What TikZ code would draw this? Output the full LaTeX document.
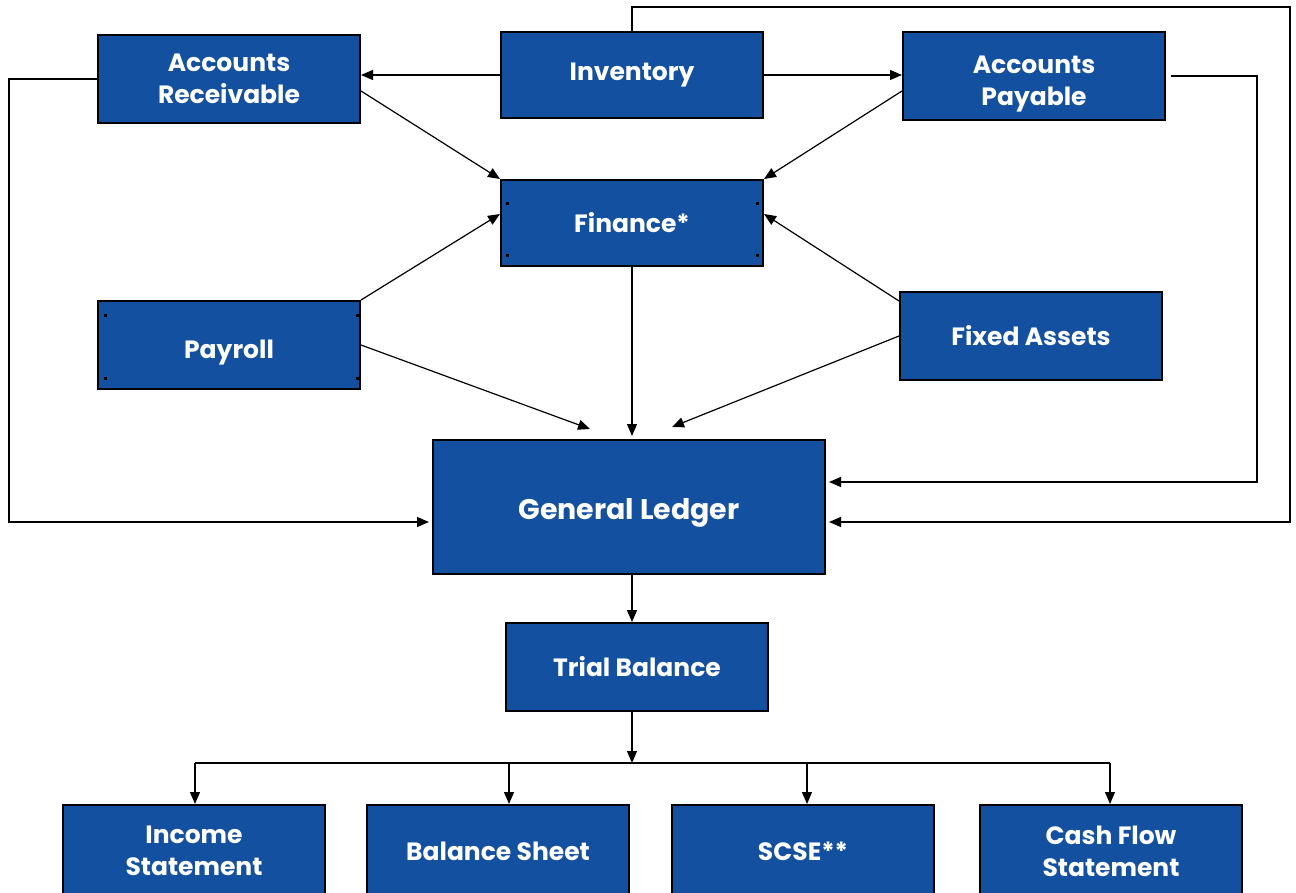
\documentclass[tikz,border=0pt]{standalone}
\usepackage{fontspec}
\setmainfont{Poppins}
\usetikzlibrary{arrows.meta,calc}
\definecolor{acctblue}{RGB}{20,80,160}
\begin{document}
\begin{tikzpicture}[x=0.5pt,y=-0.5pt,
  acct/.style={draw=black,line width=1pt,fill=acctblue,text=white,align=center,inner sep=0pt,
    font=\bfseries\fontsize{12.5}{16}\selectfont,minimum width=131pt,minimum height=44pt},
  flow/.style={line width=0.6pt,-{Triangle[length=6pt,width=5pt]}}]
\useasboundingbox (0,0) rectangle (1296,893);
\node[acct] (recv) at (229,79) {Accounts\\Receivable};
\node[acct,minimum height=43pt] (inv) at (632,75) {Inventory};
\node[acct,text height=33pt] (pay) at (1034,76) {Accounts\\Payable};
\node[acct,minimum height=43pt] (fin) at (632,223) {Finance*};
\node[acct,text height=16pt,text depth=3pt] (payroll) at (229,345) {Payroll};
\node[acct] (fixed) at (1031,336) {Fixed Assets};
\node[acct,minimum width=196pt,minimum height=67pt,text height=16pt,text depth=4pt,
  font=\bfseries\fontsize{14.2}{18}\selectfont] (gl) at (629,507) {General Ledger};
\node[acct] (tb) at (637,667) {Trial Balance};
\node[acct,minimum height=46pt] (inc) at (194,851) {Income\\Statement};
\node[acct,minimum height=46pt] (bal) at (498,851) {Balance Sheet};
\node[acct,minimum height=46pt] (scse) at (803,851) {SCSE**};
\node[acct,minimum height=46pt] (cfs) at (1111,851) {Cash Flow\\Statement};
\foreach \x/\y in {507/204,757/204,507/256,757/256,105/316,357/316,105/378,357/378}
  \fill[black] (\x-1.5,\y-1.5) rectangle ++(3,3);
\draw[flow] (inv.west) -- (recv.east |- inv.west);
\draw[flow] (inv.east) -- (pay.west |- inv.east);
\draw[flow] ($(recv.east)+(0,12)$) -- (fin.north west);
\draw[flow] ($(pay.west)+(0,15)$) -- (fin.north east);
\draw[flow] (payroll.north east) -- ($(fin.west)+(0,-9)$);
\draw[flow] ($(fixed.north west)+(0,10)$) -- ($(fin.east)+(0,-9)$);
\draw[flow,shorten >=1.5pt] (fin.south) -- (fin.south |- gl.north);
\draw[flow] (payroll.east) -- ($(gl.north)+(-39,-10)$);
\draw[flow] (fixed.west) -- ($(gl.north)+(43,-12)$);
\draw[flow] (recv.west) -- ++(-88,0) |- ($(gl.west)+(-3,15)$);
\draw[flow] ($(pay.east)+(5,0)$) -- ++(86,0) |- ($(gl.east)+(3,-25)$);
\coordinate (loop) at (1290,7);
\draw[flow] (inv.north) |- (loop) |- ($(gl.east)+(3,15)$);
\draw[flow] (gl.south -| fin.south) -- (fin.south |- tb.north);
\coordinate (split) at (632,763);
\draw[flow] (tb.south -| split) -- (split);
\draw[line width=1.2pt] ($(split -| inc.north)+(1,0)$) -- ($(split -| cfs.north)+(-1,0)$);
\foreach \n/\dx in {inc/1,bal/11,scse/4,cfs/-1}
  \draw[flow] ($(split -| \n.north)+(\dx,0)$) -- ($(\n.north)+(\dx,0)$);
\end{tikzpicture}
\end{document}
